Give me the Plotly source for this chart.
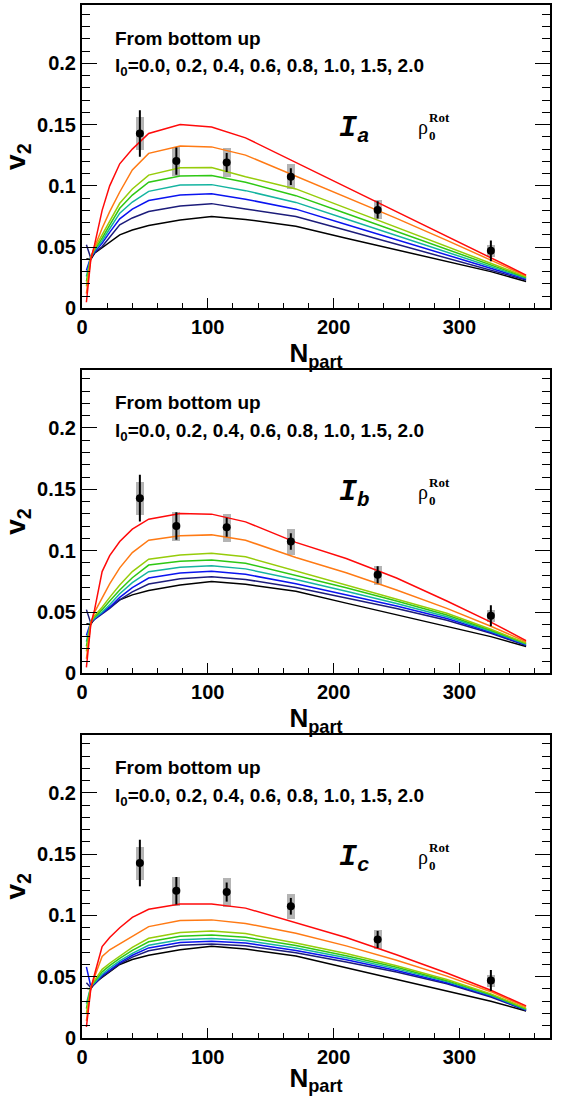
import plotly.graph_objects as go

# ---------------- data ----------------
NPART = [3.5, 7, 10, 16, 22, 30, 40, 53, 78, 103, 130, 170, 210, 250, 290, 325, 353]

L0_LABELS = ["0.0", "0.2", "0.4", "0.6", "0.8", "1.0", "1.5", "2.0"]

# l0 = 0.0 curve (identical in all panels)
V2_L00 = [0.0405, 0.0400, 0.0450, 0.0494, 0.0545, 0.0600, 0.0640, 0.0676, 0.0721, 0.0749, 0.0726, 0.0670, 0.0573, 0.0476, 0.0380, 0.0300, 0.0220]

# Panel I_a
V2_A_L02 = [0.0520, 0.0410, 0.0455, 0.0505, 0.0580, 0.0682, 0.0738, 0.0790, 0.0836, 0.0855, 0.0812, 0.0750, 0.0637, 0.0524, 0.0412, 0.0315, 0.0232]
V2_A_L04 = [0.0310, 0.0420, 0.0460, 0.0532, 0.0620, 0.0731, 0.0810, 0.0880, 0.0926, 0.0936, 0.0891, 0.0810, 0.0685, 0.0561, 0.0438, 0.0330, 0.0240]
V2_A_L06 = [0.0260, 0.0420, 0.0470, 0.0551, 0.0650, 0.0777, 0.0868, 0.0955, 0.1007, 0.1010, 0.0961, 0.0865, 0.0730, 0.0594, 0.0460, 0.0343, 0.0246]
V2_A_L08 = [0.0220, 0.0420, 0.0480, 0.0573, 0.0680, 0.0817, 0.0925, 0.1030, 0.1080, 0.1085, 0.1029, 0.0920, 0.0774, 0.0628, 0.0483, 0.0356, 0.0252]
V2_A_L10 = [0.0180, 0.0420, 0.0490, 0.0600, 0.0715, 0.0858, 0.0975, 0.1088, 0.1148, 0.1150, 0.1075, 0.0975, 0.0818, 0.0662, 0.0506, 0.0370, 0.0258]
V2_A_L15 = [0.0120, 0.0410, 0.0500, 0.0654, 0.0790, 0.0950, 0.1130, 0.1265, 0.1325, 0.1318, 0.1251, 0.1080, 0.0910, 0.0735, 0.0555, 0.0395, 0.0265]
V2_A_L20 = [0.0050, 0.0400, 0.0520, 0.0800, 0.1000, 0.1180, 0.1300, 0.1428, 0.1500, 0.1480, 0.1392, 0.1190, 0.0990, 0.0790, 0.0590, 0.0413, 0.0272]

# Panel I_b
V2_B_L02 = [0.0520, 0.0410, 0.0440, 0.0485, 0.0530, 0.0600, 0.0665, 0.0728, 0.0772, 0.0788, 0.0766, 0.0700, 0.0618, 0.0530, 0.0434, 0.0328, 0.0227]
V2_B_L04 = [0.0310, 0.0420, 0.0445, 0.0490, 0.0540, 0.0620, 0.0700, 0.0777, 0.0818, 0.0832, 0.0808, 0.0730, 0.0642, 0.0549, 0.0448, 0.0336, 0.0233]
V2_B_L06 = [0.0260, 0.0420, 0.0450, 0.0500, 0.0560, 0.0650, 0.0740, 0.0829, 0.0865, 0.0878, 0.0852, 0.0765, 0.0670, 0.0570, 0.0462, 0.0344, 0.0238]
V2_B_L08 = [0.0220, 0.0420, 0.0460, 0.0520, 0.0590, 0.0680, 0.0780, 0.0883, 0.0915, 0.0925, 0.0898, 0.0800, 0.0698, 0.0590, 0.0476, 0.0352, 0.0243]
V2_B_L10 = [0.0180, 0.0420, 0.0470, 0.0540, 0.0620, 0.0720, 0.0830, 0.0931, 0.0966, 0.0980, 0.0950, 0.0835, 0.0725, 0.0610, 0.0490, 0.0360, 0.0248]
V2_B_L15 = [0.0120, 0.0410, 0.0500, 0.0620, 0.0730, 0.0860, 0.0985, 0.1086, 0.1121, 0.1129, 0.1085, 0.0945, 0.0820, 0.0680, 0.0530, 0.0385, 0.0258]
V2_B_L20 = [0.0050, 0.0400, 0.0520, 0.0830, 0.0960, 0.1075, 0.1176, 0.1257, 0.1303, 0.1298, 0.1235, 0.1068, 0.0936, 0.0778, 0.0590, 0.0418, 0.0268]

# Panel I_c
V2_C_L02 = [0.0450, 0.0410, 0.0440, 0.0500, 0.0545, 0.0605, 0.0660, 0.0712, 0.0757, 0.0768, 0.0752, 0.0695, 0.0621, 0.0538, 0.0442, 0.0335, 0.0225]
V2_C_L04 = [0.0580, 0.0420, 0.0445, 0.0510, 0.0555, 0.0615, 0.0675, 0.0735, 0.0780, 0.0790, 0.0775, 0.0715, 0.0638, 0.0551, 0.0451, 0.0342, 0.0229]
V2_C_L06 = [0.0280, 0.0420, 0.0450, 0.0520, 0.0570, 0.0630, 0.0690, 0.0757, 0.0802, 0.0812, 0.0795, 0.0735, 0.0655, 0.0564, 0.0460, 0.0348, 0.0233]
V2_C_L08 = [0.0240, 0.0420, 0.0460, 0.0540, 0.0590, 0.0650, 0.0715, 0.0785, 0.0830, 0.0840, 0.0822, 0.0755, 0.0672, 0.0577, 0.0468, 0.0354, 0.0237]
V2_C_L10 = [0.0200, 0.0420, 0.0470, 0.0560, 0.0610, 0.0670, 0.0740, 0.0814, 0.0860, 0.0874, 0.0852, 0.0775, 0.0690, 0.0590, 0.0477, 0.0360, 0.0242]
V2_C_L15 = [0.0140, 0.0410, 0.0500, 0.0665, 0.0720, 0.0770, 0.0830, 0.0909, 0.0958, 0.0964, 0.0935, 0.0855, 0.0752, 0.0635, 0.0505, 0.0378, 0.0252]
V2_C_L20 = [0.0090, 0.0400, 0.0520, 0.0746, 0.0820, 0.0900, 0.0985, 0.1050, 0.1094, 0.1094, 0.1060, 0.0940, 0.0820, 0.0680, 0.0530, 0.0390, 0.0262]

# Experimental points
DATA_X = [46, 75, 115, 166, 235, 325]
DATA_Y = [0.1428, 0.1202, 0.1191, 0.1075, 0.0804, 0.0470]
STAT_ERR = [0.0190, 0.0112, 0.0078, 0.0068, 0.0070, 0.0085]
SYS_ERR = [0.0136, 0.0118, 0.0115, 0.0104, 0.0078, 0.0048]

PANELS = [
    ("a", [V2_L00, V2_A_L02, V2_A_L04, V2_A_L06, V2_A_L08, V2_A_L10, V2_A_L15, V2_A_L20]),
    ("b", [V2_L00, V2_B_L02, V2_B_L04, V2_B_L06, V2_B_L08, V2_B_L10, V2_B_L15, V2_B_L20]),
    ("c", [V2_L00, V2_C_L02, V2_C_L04, V2_C_L06, V2_C_L08, V2_C_L10, V2_C_L15, V2_C_L20]),
]

# ---------------- style ----------------
COLORS = ["#000000", "#1c1c7a", "#0a14f0", "#14b4a0", "#2ec814", "#96cc0a", "#ff7a14", "#ff0a0a"]
BOX_COLOR = "#b4b4b4"
BOX_W = 6.4
W, H = 561, 1096
ML, MR, MT, MB = 81, 11, 3, 58
DOMAINS = [[0.7063, 1.0], [0.3529, 0.6471], [0.0, 0.2937]]
XR = [0, 372]
YR = [0, 0.2476]
SANS = "Liberation Sans"


def bold(size, family=SANS):
    return dict(family=family, size=size, color="black", weight="bold")


fig = go.Figure()
for i, (tag, curves) in enumerate(PANELS):
    xa = "x" if i == 0 else f"x{i+1}"
    ya = "y" if i == 0 else f"y{i+1}"
    fig.add_trace(go.Bar(
        x=DATA_X, y=[2 * s for s in SYS_ERR],
        base=[v - s for v, s in zip(DATA_Y, SYS_ERR)],
        width=BOX_W, marker=dict(color=BOX_COLOR, line=dict(width=0)),
        xaxis=xa, yaxis=ya, showlegend=False, hoverinfo="skip"))
    for c, (vals, col) in enumerate(zip(curves, COLORS)):
        fig.add_trace(go.Scatter(
            x=NPART, y=vals, mode="lines", line=dict(color=col, width=1.5),
            name=f"l0={L0_LABELS[c]}", xaxis=xa, yaxis=ya, showlegend=False))
    fig.add_trace(go.Scatter(
        x=DATA_X, y=DATA_Y, mode="markers",
        marker=dict(color="black", size=8),
        error_y=dict(type="data", array=STAT_ERR, color="black", thickness=2, width=0),
        xaxis=xa, yaxis=ya, showlegend=False))

layout = dict(
    width=W, height=H, margin=dict(l=ML, r=MR, t=MT, b=MB),
    paper_bgcolor="white", plot_bgcolor="white", showlegend=False,
    font=dict(family=SANS, size=19, color="black"),
    bargap=0, annotations=[],
)
for i in range(3):
    sx = "" if i == 0 else str(i + 1)
    layout[f"xaxis{sx}"] = dict(
        domain=[0, 1], anchor=f"y{sx}", range=XR,
        tickvals=[0, 100, 200, 300], ticktext=["0", "100", "200", "300"],
        ticks="inside", ticklen=10, tickwidth=1, tickcolor="black",
        minor=dict(dtick=20, tick0=0, ticks="inside", ticklen=5, tickwidth=1, tickcolor="black"),
        showline=True, linewidth=2, linecolor="black", mirror=True,
        showgrid=False, zeroline=False, tickfont=bold(20),
        title=dict(text="N<sub>part</sub>", font=bold(26), standoff=6),
    )
    layout[f"yaxis{sx}"] = dict(
        domain=DOMAINS[i], anchor=f"x{sx}", range=YR,
        tickvals=[0, 0.05, 0.1, 0.15, 0.2], ticktext=["0", "0.05", "0.1", "0.15", "0.2"],
        ticks="inside", ticklen=15, tickwidth=1, tickcolor="black",
        minor=dict(dtick=0.01, tick0=0, ticks="inside", ticklen=8, tickwidth=1, tickcolor="black"),
        showline=True, linewidth=2, linecolor="black", mirror="ticks",
        showgrid=False, zeroline=False, tickfont=bold(20),
        title=dict(text="v<sub>2</sub>", font=bold(28), standoff=14),
    )
    xd = f"x{sx} domain"
    yd = f"y{sx} domain"
    tag = PANELS[i][0]
    layout["annotations"] += [
        dict(text="From bottom up", xref=xd, yref=yd, x=0.0655, y=0.8905,
             xanchor="left", yanchor="middle", showarrow=False, font=bold(19)),
        dict(text="l<sub>0</sub>=" + ", ".join(L0_LABELS), xref=xd, yref=yd, x=0.0655, y=0.795,
             xanchor="left", yanchor="middle", showarrow=False, font=bold(19)),
        dict(text=f"<i>I<sub>{tag}</sub></i>", xref=xd, yref=yd, x=0.545, y=0.591,
             xanchor="left", yanchor="middle", showarrow=False,
             font=bold(30, "Liberation Mono")),
        dict(text="ρ", xref=xd, yref=yd, x=0.714, y=0.595,
             xanchor="left", yanchor="middle", showarrow=False,
             font=dict(family="Liberation Serif", size=20, color="black")),
        dict(text="0", xref=xd, yref=yd, x=0.738, y=0.570,
             xanchor="left", yanchor="middle", showarrow=False,
             font=bold(13, "Liberation Serif")),
        dict(text="Rot", xref=xd, yref=yd, x=0.738, y=0.628,
             xanchor="left", yanchor="middle", showarrow=False,
             font=bold(13, "Liberation Serif")),
    ]

fig.update_layout(**layout)
fig.write_html("out.html")
